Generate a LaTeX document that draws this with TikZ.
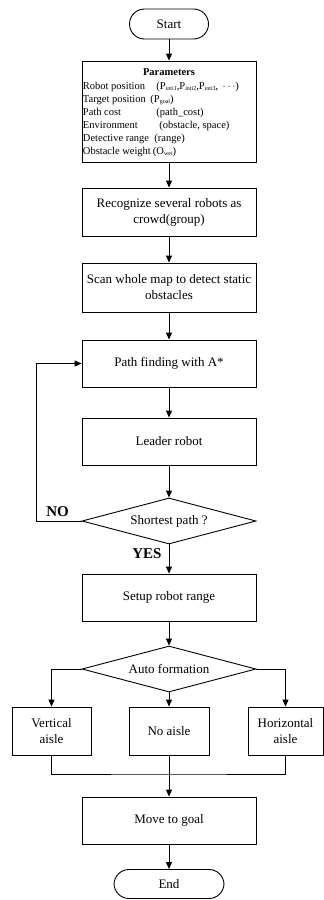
\documentclass[tikz,border=0pt]{standalone}
\usepackage{fontspec}
\setmainfont{Liberation Serif}
\usetikzlibrary{shapes.geometric,arrows.meta}
\newcommand{\psub}[1]{\raisebox{-0.25ex}{\fontsize{6}{6}\selectfont #1}}

\begin{document}
\begin{tikzpicture}[x=1pt,y=-1pt,line width=0.9pt,
    >={Triangle[length=7pt,width=6pt]},
    box/.style={draw,rectangle,minimum width=174pt,minimum height=47pt,inner sep=2pt,align=center,font=\fontsize{13}{16}\selectfont},
    term/.style={draw,rectangle,rounded corners=15pt,minimum height=30pt,font=\fontsize{13}{16}\selectfont},
    choice/.style={draw,diamond,aspect=3.8,minimum width=174pt,minimum height=46pt,inner sep=0pt,font=\fontsize{13}{16}\selectfont},
    aisle/.style={box,minimum width=79pt,minimum height=48pt},
    param/.style={anchor=base west,inner sep=0pt,font=\fontsize{10.5}{12}\selectfont},
    yesno/.style={inner sep=0pt,font=\fontsize{15}{15}\selectfont\bfseries}]
  \useasboundingbox (0,0) rectangle (324,900);

  \node[term,minimum width=79pt] (start) at (169,24) {Start};

  % Parameters
  \node[box,minimum height=101pt] (params) at (169,111.5) {};
  \node[inner sep=0pt,anchor=base,font=\fontsize{10.5}{12}\selectfont\bfseries] (ptitle) at (169,75.5) {Parameters};
  \node[param] (probot) at (82.5,89) {Robot position};
  \node[param] (vrobot) at (156,89) {(P\psub{inti1},P\psub{inti2},P\psub{inti3}, \,$\cdots$)};
  \node[param] (ptarget) at (82.5,102) {Target position};
  \node[param] (vtarget) at (150,102) {(P\psub{goal})};
  \node[param] (pcost) at (82.5,115) {Path cost};
  \node[param] (vcost) at (156,115) {(path\_cost)};
  \node[param] (penv) at (82.5,128.5) {Environment};
  \node[param] (venv) at (159,128.5) {(obstacle, space)};
  \node[param] (prange) at (82.5,141.5) {Detective range};
  \node[param] (vrange) at (154,141.5) {(range)};
  \node[param] (pweight) at (82.5,154.5) {Obstacle weight};
  \node[param] (vweight) at (152.5,154.5) {(O\psub{wei})};

  \node[box,minimum height=48pt] (crowd) at (169,212) {Recognize several robots as\\crowd(group)};
  \node[box,minimum height=49pt] (scan) at (169,287.5) {Scan whole map to detect static\\obstacles};
  \node[box] (astar) at (169,363.5) {Path finding with A*};
  \node[box] (leader) at (169,441.5) {Leader robot};
  \node[choice] (short) at (169,521) {Shortest path ?};
  \node[yesno] (no) at (57.5,512) {NO};
  \node[yesno] (yes) at (147,554) {YES};
  \node[box] (setup) at (169,597.5) {Setup robot range};
  \node[choice] (auto) at (169,669) {Auto formation};

  % aisles
  \node[aisle] (vert) at (51.5,731) {Vertical\\aisle};
  \node[aisle,minimum width=80pt] (noaisle) at (169,731) {No aisle};
  \node[aisle,minimum width=75pt] (horiz) at (285.5,731) {Horizontal\\aisle};
  \coordinate (merge) at (169,774);

  \node[box] (move) at (169,820.5) {Move to goal};
  \node[term,minimum width=110pt,minimum height=29pt] (end) at (169,884) {End};

  \draw[->] (start) -- (params);
  \draw[->] (params) -- (crowd);
  \draw[->] (crowd) -- (scan);
  \draw[->] (scan) -- (astar);
  \draw[->] (astar) -- (leader);
  \draw[->] (leader) -- (short);
  \draw[->] (short.west) -- ++(-45,0) |- (astar.west); %NO
  \draw[->] (short) -- (setup); %YES
  \draw[->] (setup) -- (auto);
  \draw[->] (auto.west) -| (vert.north);
  \draw[->] (auto) -- (noaisle);
  \draw[->] (auto.east) -| (horiz.north);
  \draw (vert.south) |- (merge) -| (horiz.south);
  \draw[->] (noaisle) -- (move);
  \draw[->] (move) -- (end);
\end{tikzpicture}
\end{document}
